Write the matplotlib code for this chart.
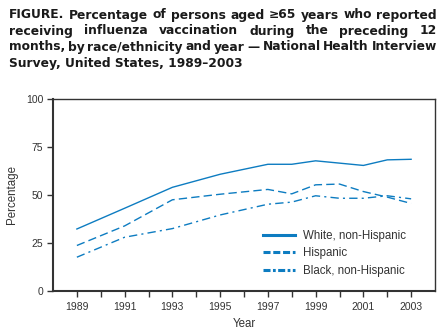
import matplotlib
matplotlib.use("Agg")
import matplotlib.pyplot as plt
from matplotlib.lines import Line2D
from matplotlib.ticker import FixedLocator

plt.rcParams['font.family'] = ['Liberation Sans', 'DejaVu Sans']

# ---- data ----
years = [1989, 1991, 1993, 1995, 1997, 1998, 1999, 2000, 2001, 2002, 2003]
white = [32.3, 43.1, 54.0, 60.8, 66.0, 66.0, 67.8, 66.6, 65.4, 68.3, 68.6]
hispanic = [23.7, 33.9, 47.5, 50.4, 52.9, 50.6, 55.3, 55.7, 51.8, 48.9, 45.6]
black = [17.6, 28.0, 32.5, 39.6, 45.2, 46.3, 49.6, 48.3, 48.3, 49.6, 48.0]
series_labels = ["White, non-Hispanic", "Hispanic", "Black, non-Hispanic"]
x_tick_labels = ["1989", "1991", "1993", "1995", "1997", "1999", "2001", "2003"]
y_ticks = [0, 25, 50, 75, 100]

title_lines = [
    "FIGURE. Percentage of persons aged \u226565 years who reported",
    "receiving influenza vaccination during the preceding 12",
    "months, by race/ethnicity and year \u2014 National Health Interview",
    "Survey, United States, 1989\u20132003",
]

W, H = 447, 335
fig = plt.figure(figsize=(W / 100, H / 100), dpi=100)
ax = fig.add_axes([53 / W, 1 - 291 / H, (435 - 53) / W, (291 - 99) / H])

color = "#0d7cc1"
dark = "#333333"

ax.plot(years, white, color=color, lw=1.0, ls="-")
ax.plot(years, hispanic, color=color, lw=1.0, dashes=(6, 3))
ax.plot(years, black, color=color, lw=1.0, dashes=(6, 3, 1.5, 3))

ax.set_xlim(1988, 2004)
ax.set_ylim(0, 100)
ax.xaxis.set_major_locator(FixedLocator([int(s) for s in x_tick_labels]))
ax.set_xticklabels(x_tick_labels)
ax.xaxis.set_minor_locator(FixedLocator([y for y in range(1990, 2003, 2)]))
ax.set_yticks(y_ticks)
ax.set_yticklabels([str(v) for v in y_ticks])

for s in ax.spines.values():
    s.set_color(dark)
    s.set_linewidth(1.0)
ax.spines['left'].set_linewidth(1.5)
ax.spines['bottom'].set_linewidth(1.5)
ax.tick_params(axis='both', which='both', direction='out', length=4, width=1.0,
               color=dark, labelcolor=dark, labelsize=7.5, pad=3)
ax.tick_params(axis='x', pad=4)

ax.set_xlabel("Year", fontsize=8.3, color=dark, labelpad=4)
ax.set_ylabel("Percentage", fontsize=8.3, color=dark, labelpad=6)

handles = [
    Line2D([], [], color=color, lw=2.2, ls="-"),
    Line2D([], [], color=color, lw=2.2, dashes=(2.3, 0.9)),
    Line2D([], [], color=color, lw=2.2, dashes=(2.3, 0.8, 0.9, 0.8)),
]
leg = ax.legend(handles, series_labels, loc="upper left",
                bbox_to_anchor=((263 - 53) / 382, 1 - (230 - 99) / 192),
                frameon=False, fontsize=8.3, handlelength=2.8, handletextpad=0.7,
                labelspacing=0.47, borderaxespad=0, borderpad=0)
for t in leg.get_texts():
    t.set_color(dark)

# ---- justified title ----
renderer = fig.canvas.get_renderer()
left_px, right_px = 9, 437
tfam = ["DejaVu Sans"]
probe = fig.text(0, 0, title_lines[0], family=tfam, fontweight="bold", fontsize=10)
wprobe = probe.get_window_extent(renderer).width
probe.remove()
fs = 10 * (right_px - left_px) / wprobe
baselines = [18.5, 34.5, 50.5, 66.5]
for i, line in enumerate(title_lines):
    yfig = 1 - baselines[i] / H
    if i == len(title_lines) - 1:
        fig.text(left_px / W, yfig, line, family=tfam, fontweight="bold", fontsize=fs,
                 color="#1a1a1a", va="baseline", ha="left")
        continue
    words = line.split(" ")
    txts = [fig.text(0, yfig, w, family=tfam, fontweight="bold", fontsize=fs,
                     color="#1a1a1a", va="baseline", ha="left") for w in words]
    widths = [t.get_window_extent(renderer).width for t in txts]
    gap = (right_px - left_px - sum(widths)) / (len(words) - 1)
    x = left_px
    for t, w in zip(txts, widths):
        t.set_x(x / W)
        x += w + gap

fig.savefig("out.png", dpi=100)
